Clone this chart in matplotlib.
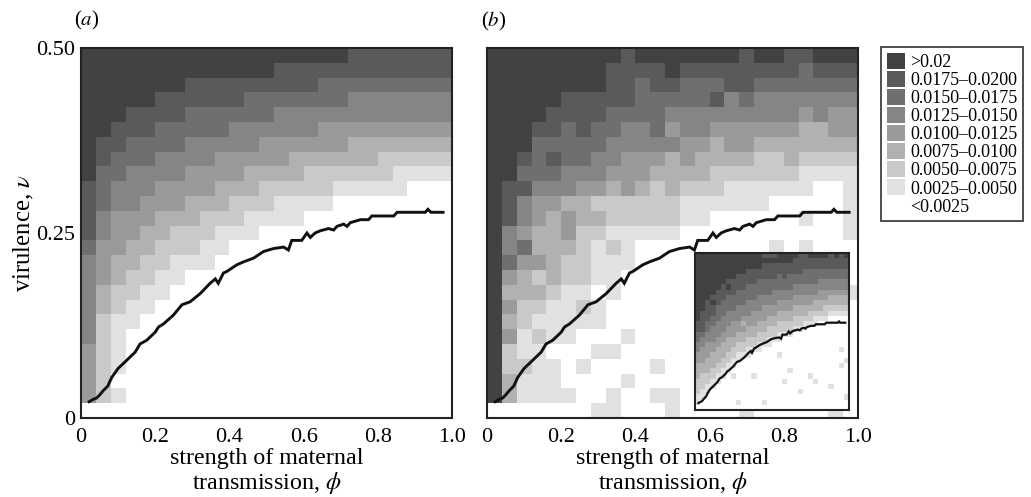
#Prevalence classes vs maternal transmission and virulence, two panels + inset

import numpy as np
import matplotlib
matplotlib.use('Agg')
import matplotlib.pyplot as plt
from matplotlib.colors import ListedColormap, BoundaryNorm
from matplotlib.patches import Patch

plt.rcParams['font.family'] = ['Liberation Serif', 'DejaVu Serif']
plt.rcParams['mathtext.fontset'] = 'stix'

#legend classes, darkest first
class_labels = ['>0.02', '0.0175–0.0200', '0.0150–0.0175', '0.0125–0.0150',
                '0.0100–0.0125', '0.0075–0.0100', '0.0050–0.0075',
                '0.0025–0.0050', '<0.0025']
#grey of level 0 (white) ... level 8 (darkest)
level_colours = ['#ffffff', '#e1e1e1', '#c9c9c9', '#b1b1b1', '#9a9a9a',
                 '#858585', '#6f6f6f', '#5a5a5a', '#424242']

#panel (a): class level of each cell, rows from v=0.5 down to v=0
grid_a = [
    "8888888888888888887777777",
    "8888888888888777777777777",
    "8888888777777777666666666",
    "8888877777766666665555555",
    "8887777666666555555555555",
    "8877766666555555444444444",
    "8776666555554444443333333",
    "8766655554444433333322222",
    "8665555444433332222221111",
    "7655544443332222211111000",
    "7655444333222111100000000",
    "7544433322211110000000000",
    "7544332221110000000000000",
    "6443322211000000000000000",
    "5433221110000000000000000",
    "5432211000000000000000000",
    "5322110000000000000000000",
    "5321100000000000000000000",
    "5211000000000000000000000",
    "5210000000000000000000000",
    "4210000000000000000000000",
    "4210000000000000000000000",
    "4200000000000000000000000",
    "4210000000000000000000000",
    "0000000000000000000000000",
]

#panel (b): stochastic version, same layout
grid_b = [
    "8888888887888888878877888",
    "8888888877778777777776777",
    "8888888877677666776666666",
    "8888877777666667565555555",
    "8888777766665555555554544",
    "8887767665564554444443344",
    "8886666655555443443333333",
    "8876766554443433332232222",
    "8866655544433332222221111",
    "8775554434323222111111001",
    "8754433222222111111000001",
    "8754343322222110000001001",
    "8543342211111000000000001",
    "8563332121000000000101000",
    "8644322111000000000000000",
    "8432322110000000000000000",
    "8333211010000000000000001",
    "8422112100000000000000000",
    "8321111100000000000000000",
    "8412110001000000000000000",
    "8211000110000000000000000",
    "8221101000010000000000000",
    "8311100001000000000000000",
    "8311110010011000000000000",
    "0000000110001000010000010",
]

#inset (finer grid, 30x30): for each column, first row (from top) below level L
inset_b8 = [13,11,9,8,7,6,5,5,4,4,3,3,3,2,2,2,2,2,2,1,1,1,1,1,1,1,1,1,1,1]
inset_b7 = [15,14,13,12,10,9,8,8,7,7,6,6,5,5,5,5,4,4,4,4,4,3,3,3,3,3,3,3,3,3]
inset_b6 = [17,16,15,14,13,12,11,11,10,10,9,9,8,8,8,7,7,7,7,6,6,6,6,6,5,5,5,5,5,5]
inset_b5 = [19,18,17,17,16,15,14,13,13,12,12,11,11,10,10,10,9,9,9,8,8,8,8,8,7,7,7,7,7,7]
inset_b4 = [21,21,20,19,18,17,16,16,15,15,14,14,13,13,12,12,11,11,11,10,10,10,10,9,9,9,8,8,8,8]
inset_b3 = [24,23,23,22,21,20,19,18,17,17,16,16,15,15,14,14,13,13,13,12,12,12,11,11,11,10,10,10,10,10]
inset_b2 = [27,26,25,24,23,22,21,20,19,19,18,18,17,17,16,16,15,15,15,14,14,13,13,12,12,12,11,11,11,11]
inset_b1 = [29,28,27,26,25,24,23,22,21,20,20,19,19,18,18,17,17,16,16,15,15,14,14,14,13,13,12,12,12,12]
#isolated cells (row, col, level)
inset_specks = [(19,16,1),(18,28,1),(22,18,1),(23,11,1),(23,7,1),(23,22,1),
                (24,23,1),(25,26,1),(24,17,1),(28,8,1),(21,28,1),(28,13,1),
                (27,29,1),(26,20,1),(20,29,1),
                (0,13,7),(0,14,7),(0,15,7),(0,20,7),(0,21,7),(0,26,7),(0,28,7),
                (6,6,8),(4,17,7),(9,3,8),(14,1,7),(10,20,3),(13,9,3)]

#threshold curve, same in every panel
phi_line = [0.022, 0.032, 0.042, 0.05, 0.06, 0.072, 0.083, 0.10, 0.119, 0.146,
            0.159, 0.177, 0.20, 0.209, 0.222, 0.249, 0.272, 0.294, 0.321, 0.348,
            0.362, 0.37, 0.384, 0.393, 0.42, 0.438, 0.465, 0.492, 0.519, 0.546,
            0.559, 0.568, 0.595, 0.609, 0.618, 0.631, 0.645, 0.667, 0.681, 0.69,
            0.708, 0.717, 0.726, 0.753, 0.775, 0.784, 0.843, 0.852, 0.928, 0.935,
            0.943, 0.976]
v_line = [0.022, 0.025, 0.027, 0.031, 0.037, 0.043, 0.055, 0.067, 0.076, 0.089,
          0.10, 0.105, 0.116, 0.123, 0.127, 0.139, 0.153, 0.157, 0.168, 0.182,
          0.188, 0.182, 0.196, 0.198, 0.207, 0.211, 0.216, 0.225, 0.229, 0.231,
          0.227, 0.24, 0.24, 0.25, 0.244, 0.25, 0.253, 0.256, 0.254, 0.259,
          0.262, 0.259, 0.264, 0.268, 0.268, 0.273, 0.273, 0.278, 0.278, 0.282,
          0.278, 0.278]

#building level matrices
def to_levels(rows):
    return np.array([[int(ch) for ch in r] for r in rows])

lev_a = to_levels(grid_a)
lev_b = to_levels(grid_b)

edges = np.array([inset_b1, inset_b2, inset_b3, inset_b4,
                  inset_b5, inset_b6, inset_b7, inset_b8])
rows = np.arange(len(inset_b8))[:, None]
lev_in = (rows[None, :, :] < edges[:, None, :]).sum(axis=0)
for r, c, l in inset_specks:
    lev_in[r, c] = l

cmap = ListedColormap(level_colours)
norm = BoundaryNorm(np.arange(-0.5, 9.5, 1), cmap.N)
frame_col = '#222222'

def draw(ax, lev):
    ny, nx = lev.shape
    phi_edges = np.linspace(0, 1, nx + 1)
    v_edges = np.linspace(0.5, 0, ny + 1)
    ax.pcolormesh(phi_edges, v_edges, lev, cmap=cmap, norm=norm)
    ax.plot(phi_line, v_line, color='#111111', lw=2.1, solid_joinstyle='miter')
    ax.set_xlim(0, 1)
    ax.set_ylim(0, 0.5)
    for s in ax.spines.values():
        s.set_color(frame_col)
        s.set_linewidth(1.5)

fig = plt.figure(figsize=(10.31, 4.97), dpi=100)
W, H = 1031, 497
ax_a = fig.add_axes([81/W, 79/H, 371/W, 370/H])
ax_b = fig.add_axes([487/W, 79/H, 371/W, 370/H])
ax_in = fig.add_axes([695/W, 87/H, 154/W, 157/H])

draw(ax_a, lev_a)
draw(ax_b, lev_b)
draw(ax_in, lev_in)
ax_in.lines[0].set_linewidth(1.6)

xt = [0, 0.2, 0.4, 0.6, 0.8, 1.0]
xtl = ['0', '0.2', '0.4', '0.6', '0.8', '1.0']
for ax in (ax_a, ax_b):
    ax.set_xticks(xt)
    ax.set_xticklabels(xtl, fontsize=16)
    ax.tick_params(length=0, pad=7)
    ax.set_xlabel('strength of maternal\ntransmission, $\\phi$', fontsize=17.3,
                  labelpad=1, linespacing=1.05)
ax_a.set_yticks([0, 0.25, 0.5])
ax_a.set_yticklabels(['0', '0.25', '0.50'], fontsize=16)
ax_a.tick_params(axis='y', pad=4)
ax_a.set_ylabel('virulence, $\\nu$', fontsize=17.8, labelpad=0)
ax_b.set_yticks([])
ax_in.set_xticks([])
ax_in.set_yticks([])

fig.text(74/W, 1 - 20/H, '($a$)', fontsize=15, va='center', ha='left')
fig.text(481/W, 1 - 21/H, '($b$)', fontsize=15, va='center', ha='left')

handles = [Patch(facecolor=c, edgecolor='none') for c in level_colours[::-1]]
leg = fig.legend(handles, class_labels, loc='upper left',
                 bbox_to_anchor=(881/W, 1 - 47/H), bbox_transform=fig.transFigure,
                 frameon=True, fancybox=False, edgecolor=frame_col, fontsize=13,
                 handlelength=1.0, handleheight=0.97, labelspacing=0,
                 handletextpad=0.3, borderpad=0.32, borderaxespad=0)
leg.get_frame().set_linewidth(1.4)

plt.savefig('out.png', dpi=100)
